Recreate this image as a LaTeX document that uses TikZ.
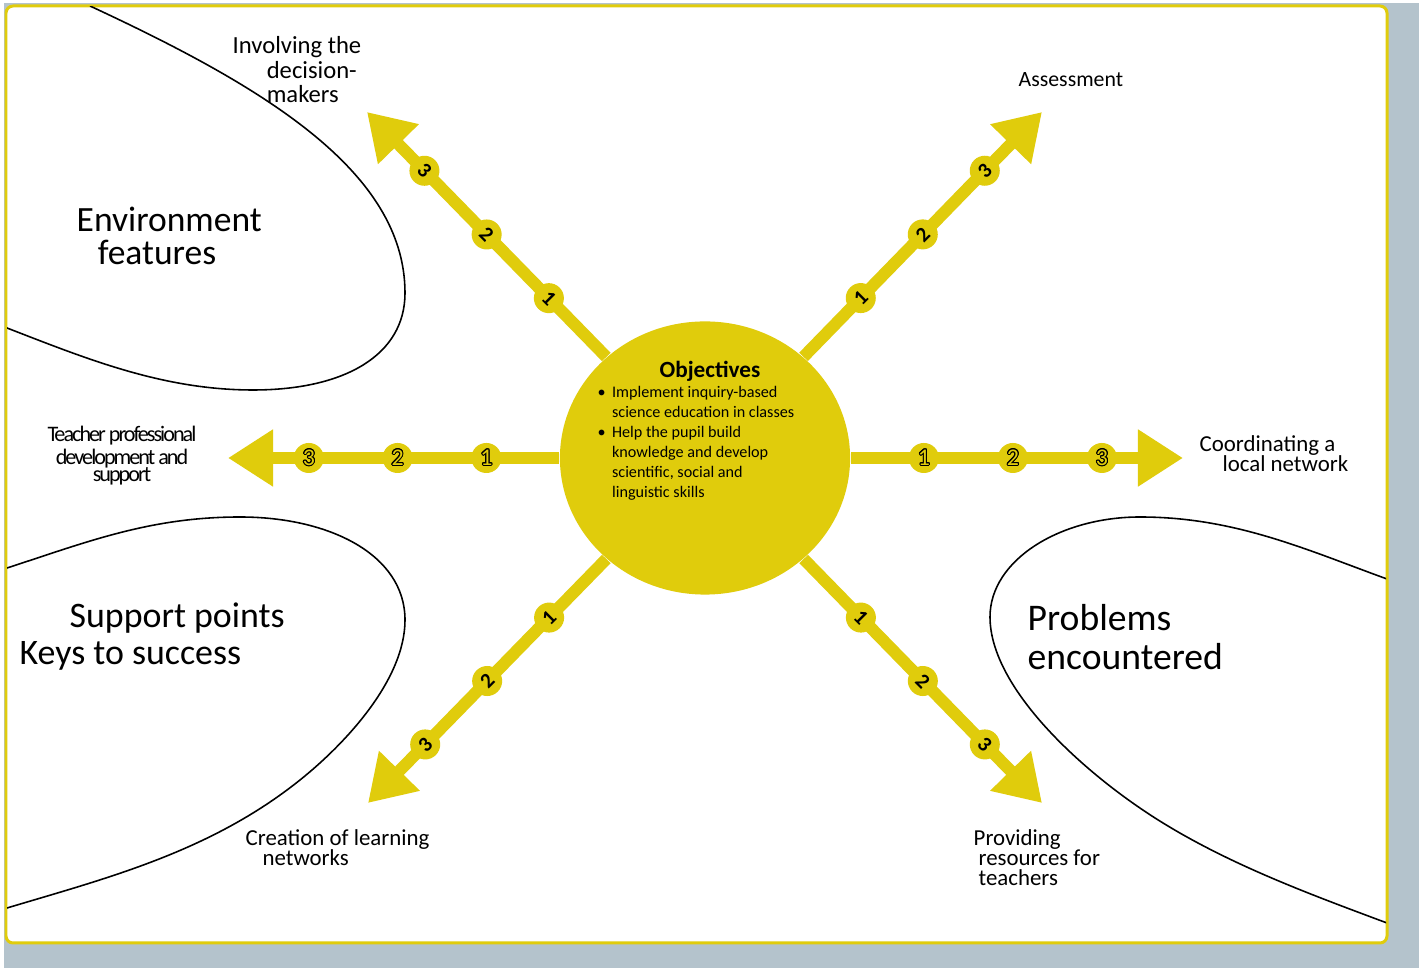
\documentclass[tikz,border=0pt]{standalone}
\usepackage{fontspec}
\setmainfont{Carlito}
\usepackage{contour}
\usetikzlibrary{arrows.meta, shapes.geometric, positioning}
\definecolor{sunyellow}{RGB}{224,204,12}
\definecolor{shadowgrey}{RGB}{180,195,204}
\contourlength{0.3pt}
\newcommand{\hollow}[1]{\contour{black}{\textcolor{sunyellow}{#1}}}

\begin{document}
\begin{tikzpicture}[x=0.01cm, y=-0.01cm]
    \tikzstyle{spoke}=[draw=sunyellow, line width=1.2mm, -{Triangle[length=4.5mm,width=5.4mm]}]
    \tikzstyle{hbadge}=[circle, fill=sunyellow, minimum size=3mm, inner sep=0, font=\fontsize{6.8}{7}\selectfont]
    \tikzstyle{dbadge}=[hbadge, font=\bfseries\fontsize{6}{7}\selectfont]
    \tikzstyle{oval}=[draw=black, line width=0.45pt]
    \tikzstyle{lbl}=[inner sep=0, anchor=base west, align=left, font=\fontsize{6.5}{5.7}\selectfont]
    \tikzstyle{biglbl}=[lbl, font=\fontsize{10.1}{9.4}\selectfont]

    \useasboundingbox (0,0) rectangle (1427,968);
    \fill[white] (0,0) rectangle (1427,968);
    \fill[shadowgrey] (4,3) rectangle (1419,968);
    \draw[draw=sunyellow, fill=white, line width=0.85pt, rounded corners=2pt] (6,6) rectangle (1387,943);

    % the three fields
    \begin{scope}
    \clip (7,7) rectangle (1386,942);
    \draw[oval] (90,6) .. controls (260,85) and (405,170) .. (405,293)
        .. controls (405,355) and (345,390) .. (253,390)
        .. controls (163,390) and (87,359) .. (7,328) -- (-10,322);
    \draw[oval] (-10,573) -- (7,568) .. controls (87,542) and (150,517) .. (240,517)
        .. controls (330,517) and (405,555) .. (405,620)
        .. controls (405,680) and (345,744) .. (300,780)
        .. controls (210,852) and (107,878) .. (7,908) -- (-10,912);
    \draw[oval] (1400,584) -- (1387,579) .. controls (1307,550) and (1235,517) .. (1140,517)
        .. controls (1060,517) and (990,560) .. (990,617)
        .. controls (990,690) and (1088,777) .. (1163,823)
        .. controls (1233,866) and (1312,895) .. (1387,923) -- (1400,928);
    \end{scope}

    \node[biglbl] (env) at (76,265) {Environment\\\hspace*{6pt}features};
    \node[biglbl, font=\fontsize{10.2}{10.8}\selectfont] (support) at (19,665) {\hspace*{14.2pt}Support points\\Keys to success};
    \node[biglbl, font=\fontsize{10.7}{11.2}\selectfont] (problems) at (1027,670) {Problems\\encountered};

    % centre
    \node[ellipse, fill=sunyellow, minimum width=2.9cm, minimum height=2.73cm, inner sep=0] (obj) at (705,458) {};
    \node[inner sep=0, anchor=base, font=\bfseries\fontsize{6.6}{7}\selectfont] (objtitle) at (710,378) {Objectives};
    \node[inner sep=0, anchor=north west, font=\fontsize{4.6}{5.7}\selectfont] (objlist) at (597,383)
        {\begin{tabular}[t]{@{}l@{\hspace{1.8pt}}l@{}}
        \textbullet & Implement inquiry-based\\
                    & science education in classes\\
        \textbullet & Help the pupil build\\
                    & knowledge and develop\\
                    & scientific, social and\\
                    & linguistic skills
        \end{tabular}};

    \coordinate (tipW) at (228,458);
    \coordinate (tipE) at (1183,458);
    \coordinate (tipNW) at (367,112);
    \coordinate (tipNE) at (1042,112);
    \coordinate (tipSW) at (368,803);
    \coordinate (tipSE) at (1042,803);

    \draw[spoke] (obj) -- (tipW)
        node[hbadge, pos=.22] (w1) {\hollow{1}}
        node[hbadge, pos=.488] (w2) {\hollow{2}}
        node[hbadge, pos=.756] (w3) {\hollow{3}};
    \draw[spoke] (obj) -- (tipE)
        node[hbadge, pos=.22] (e1) {\hollow{1}}
        node[hbadge, pos=.488] (e2) {\hollow{2}}
        node[hbadge, pos=.756] (e3) {\hollow{3}};
    \draw[spoke] (obj) -- (tipNW)
        node[dbadge, rotate=-45, pos=.24] (nw1) {1}
        node[dbadge, rotate=-45, pos=.5] (nw2) {2}
        node[dbadge, rotate=-45, pos=.76] (nw3) {3};
    \draw[spoke] (obj) -- (tipNE)
        node[dbadge, rotate=45, pos=.24] (ne1) {1}
        node[dbadge, rotate=45, pos=.5] (ne2) {2}
        node[dbadge, rotate=45, pos=.76] (ne3) {3};
    \draw[spoke] (obj) -- (tipSW)
        node[dbadge, rotate=45, pos=.24] (sw1) {1}
        node[dbadge, rotate=45, pos=.5] (sw2) {2}
        node[dbadge, rotate=45, pos=.76] (sw3) {3};
    \draw[spoke] (obj) -- (tipSE)
        node[dbadge, rotate=-45, pos=.24] (se1) {1}
        node[dbadge, rotate=-45, pos=.5] (se2) {2}
        node[dbadge, rotate=-45, pos=.76] (se3) {3};

    % labels at the arrow tips
    \node[lbl, font=\fontsize{7}{7.1}\selectfont] (decide) at (232,103) {Involving the\\\hspace*{9.7pt}decision-\\\hspace*{9.7pt}makers};
    \node[lbl, font=\fontsize{6.2}{5.7}\selectfont] (assess) at (1018,87) {Assessment};
    \node[lbl] (network) at (1199,472) {Coordinating a\\\hspace*{6.5pt}local network};
    \node[lbl] (resources) at (973,886) {Providing\\\hspace*{1.4pt}resources for\\\hspace*{1.4pt}teachers};
    \node[lbl] (learning) at (245,866) {Creation of learning\\\hspace*{4.8pt}networks};
    \node[lbl, anchor=base, align=center, font=\fontsize{6.3}{5.1}\selectfont\addfontfeature{LetterSpace=-9}] (teacher) at (122,482) {Teacher professional\\development and\\support};
\end{tikzpicture}
\end{document}
